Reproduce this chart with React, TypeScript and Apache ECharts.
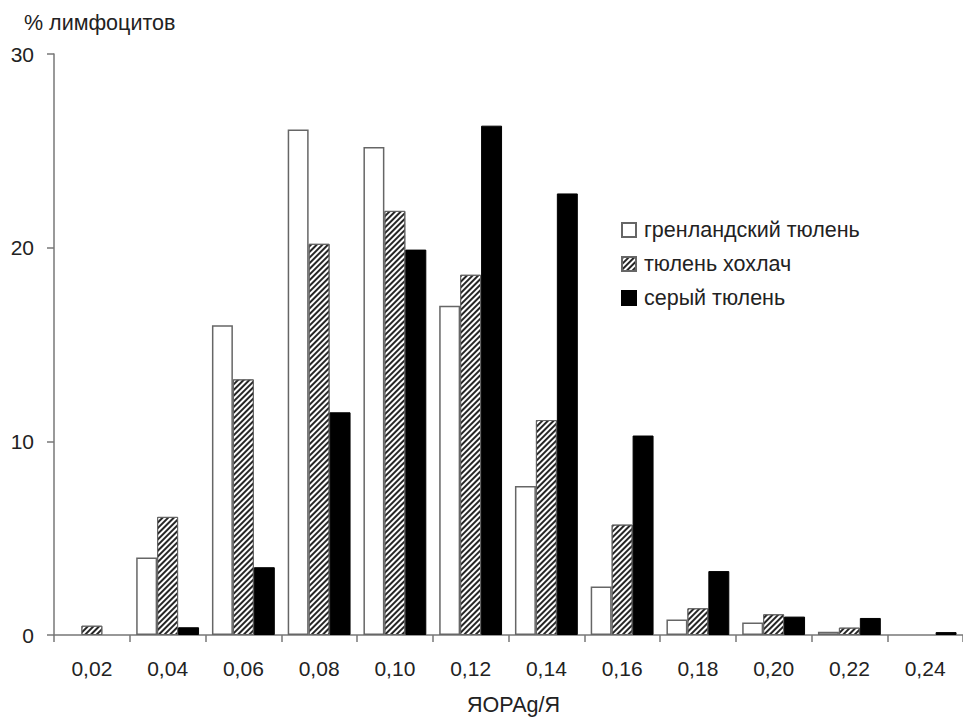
import React, { useEffect, useRef } from "react";
import * as echarts from "echarts";

const categories = ["0,02", "0,04", "0,06", "0,08", "0,10", "0,12", "0,14", "0,16", "0,18", "0,20", "0,22", "0,24"];
const greenland = [0, 4.0, 16.0, 26.1, 25.2, 17.0, 7.7, 2.5, 0.8, 0.65, 0.17, 0];
const hooded = [0.48, 6.1, 13.2, 20.2, 21.9, 18.6, 11.1, 5.7, 1.38, 1.07, 0.38, 0];
const grey = [0, 0.4, 3.5, 11.5, 19.9, 26.3, 22.8, 10.3, 3.3, 0.95, 0.88, 0.15];
const seriesNames = ["гренландский тюлень", "тюлень хохлач", "серый тюлень"];
const yTicks = [0, 10, 20, 30];

const FONT = "Liberation Sans, Arial, sans-serif";

// zero values are drawn as empty (no bar)
const toBars = (arr: number[]) => arr.map((v) => (v === 0 ? null : v));

export default function App() {
  const ref = useRef<HTMLDivElement>(null);
  useEffect(() => {
    if (!ref.current) return;
    const chart = echarts.init(ref.current, null, { renderer: "svg" });
    const hatch = {
      symbol: "rect",
      symbolSize: 1,
      dashArrayX: [1, 0],
      dashArrayY: [2, 2],
      rotation: -Math.PI / 4,
      color: "#262626",
      backgroundColor: "#ffffff",
    };
    chart.setOption({
      animation: false,
      backgroundColor: "#ffffff",
      textStyle: { fontFamily: FONT },
      grid: { left: 54, top: 54, width: 916, height: 581, containLabel: false },
      legend: {
        orient: "vertical",
        left: 616,
        top: 214,
        itemWidth: 14,
        itemHeight: 14,
        itemGap: 12,
        icon: "rect",
        textStyle: { fontSize: 21.5, color: "#222", fontFamily: FONT, padding: [0, 0, 0, 3] },
        data: seriesNames,
      },
      graphic: [
        {
          type: "text",
          left: 24,
          top: 12,
          style: { text: "% лимфоцитов", font: `21.5px ${FONT}`, fill: "#222" },
        },
        {
          type: "text",
          left: 467,
          top: 694,
          style: { text: "ЯОРАg/Я", font: `21.5px ${FONT}`, fill: "#222" },
        },
      ],
      xAxis: {
        type: "category",
        data: categories,
        boundaryGap: true,
        axisLine: { lineStyle: { color: "#777", width: 1.5 } },
        axisTick: { show: true, length: 7, lineStyle: { color: "#777", width: 1.5 } },
        axisLabel: { fontSize: 21, color: "#222", margin: 23, fontFamily: FONT },
      },
      yAxis: {
        type: "value",
        min: yTicks[0],
        max: yTicks[yTicks.length - 1],
        interval: 10,
        splitLine: { show: false },
        axisLine: { show: true, lineStyle: { color: "#777", width: 1.5 } },
        axisTick: { show: true, length: 7, lineStyle: { color: "#777", width: 1.5 } },
        axisLabel: { fontSize: 21, color: "#222", margin: 20, fontFamily: FONT },
      },
      series: [
        {
          name: seriesNames[0],
          type: "bar",
          data: toBars(greenland),
          barGap: "0%",
          barCategoryGap: "17%",
          itemStyle: { color: "#ffffff", borderColor: "#666", borderWidth: 1.5 },
        },
        {
          name: seriesNames[1],
          type: "bar",
          data: toBars(hooded),
          itemStyle: { color: "#ffffff", borderColor: "#666", borderWidth: 1, decal: hatch },
        },
        {
          name: seriesNames[2],
          type: "bar",
          data: toBars(grey),
          itemStyle: { color: "#000000", borderColor: "#000", borderWidth: 1 },
        },
      ],
    });
    return () => chart.dispose();
  }, []);
  return <div ref={ref} style={{ width: 963, height: 720, position: "absolute", left: 0, top: 0 }} />;
}
